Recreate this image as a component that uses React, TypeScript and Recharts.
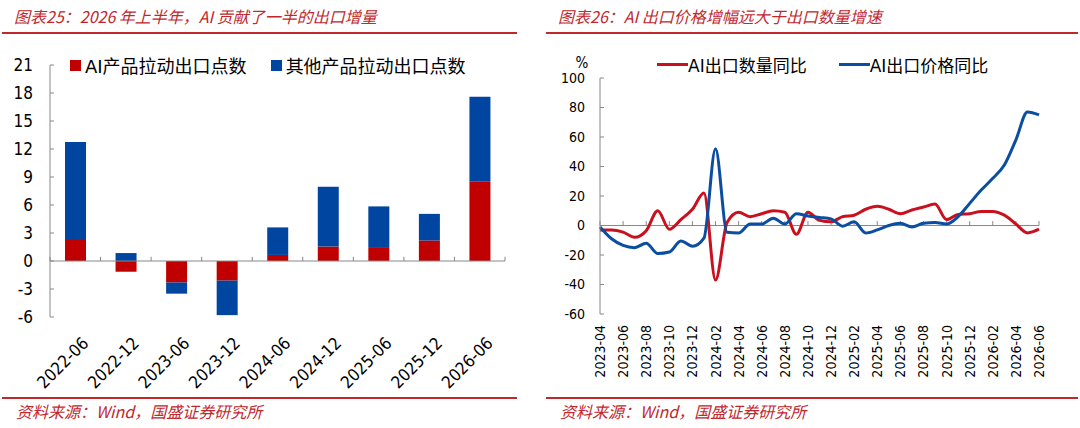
import React from "react";
import { BarChart, Bar, LineChart, Line, XAxis, YAxis, ReferenceLine, Legend } from "recharts";

// left chart: contribution of AI / other products to export growth (pct points)
const halfYears = ["2022-06", "2022-12", "2023-06", "2023-12", "2024-06", "2024-12", "2025-06", "2025-12", "2026-06"];
const aiPoints = [2.25, -1.15, -2.3, -2.1, 0.65, 1.55, 1.4, 2.2, 8.5];
const otherPoints = [10.5, 0.85, -1.2, -3.7, 2.95, 6.4, 4.45, 2.85, 9.1];
const leftTicks = [-6, -3, 0, 3, 6, 9, 12, 15, 18, 21];

// right chart: AI export volume / price yoy (%)
const months = [
  "2023-04", "2023-05", "2023-06", "2023-07", "2023-08", "2023-09", "2023-10", "2023-11", "2023-12",
  "2024-01", "2024-02", "2024-03", "2024-04", "2024-05", "2024-06", "2024-07", "2024-08", "2024-09",
  "2024-10", "2024-11", "2024-12", "2025-01", "2025-02", "2025-03", "2025-04", "2025-05", "2025-06",
  "2025-07", "2025-08", "2025-09", "2025-10", "2025-11", "2025-12", "2026-01", "2026-02", "2026-03",
  "2026-04", "2026-05", "2026-06",
];
const qtyYoy = [
  -3, -3, -4.5, -8, -3.5, 10, -2.5, 4, 11, 22, -37, 2, 9, 6, 8, 10, 9, -6, 9, 3.5,
  2.5, 6, 7, 11, 13, 11, 8, 10.5, 12.5, 14.5, 4, 7.5, 8, 9.5, 9.5, 7, 1, -5, -2.5,
];
const priceYoy = [
  -1, -9, -13.5, -15, -12, -19, -18, -10.5, -14, -8.5, 52, -4.5, -5, 1, 1, 5, 1, 8, 6.5, 5.5,
  4.5, -0.5, 2.5, -5, -3, 0, 1.5, -1, 1.5, 2, 1, 6, 15, 24, 32, 41, 58, 77, 75,
];
const rightTicks = [-60, -40, -20, 0, 20, 40, 60, 80, 100];
const lineOrder = ["qty", "price"];

const RED = "#c00000";
const BLUE = "#0045a0";
const TITLE_RED = "#c0282e";
const GRID = "#888";
const numFont = '"DejaVu Sans Condensed", "DejaVu Sans", sans-serif';
const mixFont = '"DejaVu Sans", "Noto Sans CJK SC", sans-serif';
const cjkFont = '"Noto Sans CJK SC", sans-serif';

const barData = halfYears.map((p, i) => ({ period: p, ai: aiPoints[i], other: otherPoints[i] }));
const lineData = months.map((m, i) => ({ month: m, qty: qtyYoy[i], price: priceYoy[i] }));

const SlantTick = (props: any) => {
  const { x, y, payload } = props;
  return (
    <g transform={`translate(${x + 10},${y})`}>
      <text transform="rotate(-45)" textAnchor="end" dominantBaseline="central" fontSize={17} fontFamily={numFont} fill="#000">
        {payload.value}
      </text>
    </g>
  );
};

const UprightTick = (props: any) => {
  const { x, y, payload } = props;
  return (
    <g transform={`translate(${x},${y})`}>
      <text transform="rotate(-90)" textAnchor="end" dominantBaseline="central" fontSize={14} fontFamily={numFont} fill="#000">
        {payload.value}
      </text>
    </g>
  );
};

const BarLegend = (props: any) => (
  <div style={{ display: "flex", fontFamily: mixFont, fontSize: 18, color: "#000" }}>
    {props.payload.map((p: any) => (
      <div key={p.value} style={{ display: "flex", alignItems: "center", marginRight: 24 }}>
        <span style={{ width: 11, height: 11, background: p.color, marginRight: 4 }} />
        <span>{p.value}</span>
      </div>
    ))}
  </div>
);

const LineLegend = (props: any) => {
  const items = [...props.payload].sort((a: any, b: any) => lineOrder.indexOf(a.dataKey) - lineOrder.indexOf(b.dataKey));
  return (
    <div style={{ display: "flex", fontFamily: mixFont, fontSize: 17, color: "#000" }}>
      {items.map((p: any) => (
        <div key={p.value} style={{ display: "flex", alignItems: "center", marginRight: 32 }}>
          <span style={{ width: 31, height: 3, background: p.color }} />
          <span>{p.value}</span>
        </div>
      ))}
    </div>
  );
};

const Title = ({ left, width, text }: { left: number; width: number; text: string }) => (
  <>
    <div style={{ position: "absolute", left: left + 12, top: 4, fontFamily: cjkFont, fontStyle: "italic", fontSize: 16, color: TITLE_RED, whiteSpace: "nowrap" }}>
      {text}
    </div>
    <div style={{ position: "absolute", left, top: 32, width, borderTop: `2px solid ${TITLE_RED}` }} />
    <div style={{ position: "absolute", left, top: 397, width, borderTop: `2px solid ${TITLE_RED}` }} />
    <div style={{ position: "absolute", left: left + 14, top: 399, fontFamily: cjkFont, fontStyle: "italic", fontSize: 16, color: TITLE_RED, whiteSpace: "nowrap" }}>
      资料来源：Wind，国盛证券研究所
    </div>
  </>
);

const ContributionChart = () => (
  <BarChart width={540} height={360} data={barData} stackOffset="sign" barSize={21} margin={{ top: 25, right: 35, bottom: 8, left: 0 }}>
    <XAxis dataKey="period" interval={0} tick={SlantTick} tickSize={0} tickMargin={23} axisLine={false} tickLine={false} height={75} />
    <YAxis
      domain={[-6, 21]}
      ticks={leftTicks}
      interval={0}
      width={50}
      tickSize={-4}
      tickMargin={21}
      axisLine={{ stroke: GRID }}
      tickLine={{ stroke: GRID }}
      tick={{ fontSize: 17, fontFamily: numFont, fill: "#000" }}
    />
    <ReferenceLine y={0} stroke={GRID} />
    {halfYears.map((p) => (
      <ReferenceLine key={p} segment={[{ x: p, y: 0 }, { x: p, y: 0.45 }]} position="start" stroke={GRID} />
    ))}
    <ReferenceLine segment={[{ x: halfYears[halfYears.length - 1], y: 0 }, { x: halfYears[halfYears.length - 1], y: 0.45 }]} position="end" stroke={GRID} />
    <Bar dataKey="ai" name="AI产品拉动出口点数" stackId="a" fill={RED} isAnimationActive={false} />
    <Bar dataKey="other" name="其他产品拉动出口点数" stackId="a" fill={BLUE} isAnimationActive={false} />
    <Legend verticalAlign="middle" align="center" content={BarLegend} wrapperStyle={{ left: 70, top: 12, width: "auto" }} />
  </BarChart>
);

const PriceVolumeChart = () => (
  <LineChart width={540} height={360} data={lineData} margin={{ top: 38, right: 41, bottom: 8, left: 0 }}>
    <XAxis dataKey="month" interval={1} tick={UprightTick} tickSize={0} tickMargin={11} axisLine={false} tickLine={false} height={78} />
    <YAxis
      domain={[-60, 100]}
      ticks={rightTicks}
      interval={0}
      width={60}
      tickSize={-4}
      tickMargin={19}
      axisLine={{ stroke: GRID }}
      tickLine={{ stroke: GRID }}
      tick={{ fontSize: 14, fontFamily: numFont, fill: "#000" }}
      label={{ value: "%", position: "top", offset: 10, dx: 12, fontSize: 15, fontFamily: numFont, fill: "#000" }}
    />
    <ReferenceLine y={0} stroke={GRID} />
    {months.filter((_, i) => i % 2 === 0).map((m) => (
      <ReferenceLine key={m} segment={[{ x: m, y: 0 }, { x: m, y: 3 }]} stroke={GRID} />
    ))}
    <Line type="monotone" dataKey="qty" name="AI出口数量同比" stroke="#c8101e" strokeWidth={3} dot={false} isAnimationActive={false} />
    <Line type="monotone" dataKey="price" name="AI出口价格同比" stroke="#0a4ea2" strokeWidth={3} dot={false} isAnimationActive={false} />
    <Legend verticalAlign="middle" align="center" content={LineLegend} wrapperStyle={{ left: 117, top: 12, width: "auto" }} />
  </LineChart>
);

export default function App() {
  return (
    <div style={{ position: "absolute", left: 0, top: 0, width: 1080, height: 428, background: "#fff", overflow: "hidden" }}>
      <Title left={2} width={515} text="图表25：2026 年上半年，AI 贡献了一半的出口增量" />
      <Title left={546} width={532} text="图表26：AI 出口价格增幅远大于出口数量增速" />
      <div style={{ position: "absolute", left: 0, top: 40 }}>
        <ContributionChart />
      </div>
      <div style={{ position: "absolute", left: 540, top: 40 }}>
        <PriceVolumeChart />
      </div>
    </div>
  );
}
